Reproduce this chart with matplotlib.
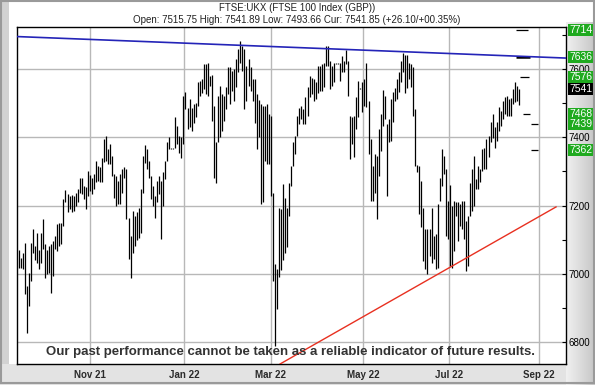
import matplotlib.pyplot as plt
import matplotlib.transforms as mtransforms
from matplotlib.patches import Rectangle
import numpy as np

title = "FTSE:UKX (FTSE 100 Index (GBP))"
subtitle = "Open: 7515.75 High: 7541.89 Low: 7493.66 Cur: 7541.85 (+26.10/+00.35%)"
disclaimer = "Our past performance cannot be taken as a reliable indicator of future results."

# daily high / low bars, Sep 2021 -> Aug 2022
highs = [
    # sep - oct 21
    7070, 7047, 7062, 7091, 6964, 7003, 7091, 7130, 7081, 7120,
    7071, 7119, 7160, 7086, 7071, 7081, 7086, 7096, 7111, 7145,
    7148, 7150, 7219, 7246, 7233, 7228, 7230, 7228, 7238, 7248,
    7280, 7280, 7258, 7253, 7302, 7289, 7280, 7292, 7331, 7317,
    7312, 7338, 7395,
    # nov - dec 21
    7404, 7365, 7380, 7346, 7292, 7287, 7272, 7292, 7307, 7312,
    7307, 7165, 7111, 7184, 7170, 7180, 7194, 7248, 7346, 7377,
    7365, 7331, 7287, 7258, 7228, 7272, 7287, 7272, 7297, 7331,
    7385, 7402, 7370, 7370, 7458, 7434, 7404, 7400, 7522, 7532,
    # jan - feb 22
    7487, 7512, 7487, 7497, 7500, 7561, 7566, 7570, 7614, 7614,
    7619, 7580, 7582, 7492, 7385, 7522, 7551, 7527, 7522, 7546,
    7605, 7605, 7595, 7600, 7629, 7659, 7683, 7668, 7659, 7610,
    7629, 7605, 7570, 7570, 7527, 7510, 7497, 7492, 7492, 7497,
    7468, 7463, 7238, 7028, 7013,
    # mar - apr 22
    7194, 7189, 7263, 7223, 7194, 7267, 7316, 7385, 7404, 7463,
    7487, 7492, 7483, 7517, 7546, 7580, 7575, 7570, 7561, 7610,
    7610, 7614, 7619, 7668, 7668, 7624, 7610, 7619, 7617, 7617,
    7619, 7639, 7624, 7657, 7624, 7463, 7458, 7463, 7517, 7566,
    7544, 7561,
    # may - jun 22
    7571, 7619, 7507, 7395, 7317, 7351, 7346, 7424, 7468, 7539,
    7522, 7439, 7453, 7512, 7532, 7543, 7570, 7592, 7622, 7646,
    7641, 7641, 7619, 7614, 7605, 7483, 7318, 7316, 7272, 7194,
    7131, 7131, 7131, 7194, 7111, 7116, 7204,
    # jul - aug 22
    7282, 7365, 7346, 7307, 7214, 7260, 7199, 7214, 7209, 7209,
    7204, 7214, 7214, 7155, 7170, 7267, 7307, 7346, 7277, 7317,
    7307, 7365, 7370, 7395, 7404, 7444, 7468, 7429, 7444, 7488,
    7478, 7507, 7517, 7522, 7512, 7514, 7541, 7561, 7551, 7541.89,
]
lows = [
    7018, 7018, 7013, 6940, 6827, 6905, 6979, 7062, 7042, 7032,
    7013, 7032, 7072, 6988, 7000, 7003, 6944, 6993, 7072, 7067,
    7081, 7086, 7140, 7209, 7180, 7189, 7180, 7184, 7199, 7209,
    7238, 7233, 7219, 7189, 7228, 7243, 7233, 7248, 7268, 7273,
    7268, 7270, 7328,
    7331, 7321, 7321, 7287, 7223, 7199, 7204, 7204, 7238, 7282,
    7160, 7043, 6989, 7062, 7081, 7100, 7106, 7121, 7238, 7326,
    7307, 7282, 7219, 7199, 7165, 7209, 7233, 7101, 7199, 7277,
    7331, 7365, 7367, 7367, 7370, 7380, 7355, 7340, 7380, 7483,
    7424, 7429, 7419, 7443, 7458, 7492, 7522, 7531, 7541, 7527,
    7522, 7551, 7448, 7282, 7267, 7385, 7400, 7419, 7448, 7483,
    7527, 7497, 7536, 7507, 7546, 7590, 7619, 7595, 7483, 7507,
    7551, 7536, 7507, 7443, 7365, 7400, 7204, 7209, 7331, 7321,
    7321, 7229, 6979, 6788, 6896,
    6990, 7010, 7040, 7060, 7080, 7170, 7258, 7316, 7351, 7404,
    7439, 7453, 7439, 7439, 7463, 7517, 7527, 7507, 7512, 7531,
    7536, 7536, 7546, 7610, 7610, 7541, 7551, 7561, 7614, 7614,
    7566, 7590, 7590, 7614, 7522, 7336, 7380, 7341, 7424, 7458,
    7541, 7473,
    7492, 7488, 7351, 7214, 7214, 7238, 7160, 7287, 7360, 7434,
    7453, 7228, 7385, 7390, 7444, 7507, 7512, 7534, 7561, 7590,
    7529, 7544, 7570, 7546, 7463, 7317, 7297, 7175, 7136, 7038,
    7013, 6999, 7053, 7033, 7043, 7013, 7018,
    7214, 7258, 7292, 7111, 7101, 7023, 7018, 7067, 7170, 7096,
    7140, 7131, 7101, 7008, 7023, 7170, 7184, 7199, 7248, 7248,
    7268, 7302, 7307, 7307, 7341, 7385, 7399, 7370, 7390, 7419,
    7434, 7453, 7468, 7463, 7463, 7463, 7497, 7502, 7507, 7493.66,
]

month_labels = ["Nov 21", "Jan 22", "Mar 22", "May 22", "Jul 22", "Sep 22"]
month_bar = [35.1, 81.3, 124.0, 169.3, 211.5, 255.8]

# trend lines (bar index, price)
blue_x = [-0.84, 269.1]
blue_y = [7695, 7632]
red_x = [128.5, 264.2]
red_y = [6736, 7196]

levels = [7714, 7636, 7576, 7468, 7439, 7362]
level_text = ["7714.50", "7636.40", "7576.00", "7468.00", "7439.00", "7362.00"]
current = 7541.85
current_text = "7541.85"

W, H = 595, 385
def fx(px):
    return px / W
def fy(py):
    return 1 - py / H

plt.rcParams['font.family'] = ['Liberation Sans', 'DejaVu Sans']

fig = plt.figure(figsize=(W / 100, H / 100), dpi=100, facecolor='white')

# frame / panels (behind the axes)
fig.patches.append(Rectangle((0, 0), fx(9), 1, transform=fig.transFigure,
                             fc='#d2d2d2', ec='none', zorder=-2))
fig.patches.append(Rectangle((0, 0), 1, fy(364), transform=fig.transFigure,
                             fc='#e3e3e3', ec='none', zorder=-2))
pan = fig.add_axes([fx(566), 0, 1 - fx(566), fy(22)])
pan.set_zorder(-1)
grad = np.linspace(0, 1, 60).reshape(1, -1)
pan.imshow(grad, aspect='auto', cmap=plt.matplotlib.colors.LinearSegmentedColormap.from_list(
    'g', ['#f0f0f0', '#dcdcdc', '#c6c6c6']), extent=[0, 1, 0, 1])
pan.set_axis_off()
fig.patches.append(Rectangle((0.002, 0.004), 0.996, 0.993, transform=fig.transFigure,
                             fc='none', ec='#9a9a9a', lw=1.5, zorder=10))

ax = fig.add_axes([fx(17), fy(364), fx(566) - fx(17), fy(27) - fy(364)])
ax.set_facecolor('white')

idx = np.arange(len(highs))
ax.vlines(idx, lows, highs, color='black', lw=0.9, zorder=3)

ax.plot(blue_x, blue_y, color='#2424b8', lw=1.2, zorder=4)
ax.plot(red_x, red_y, color='#e83020', lw=1.0, zorder=4)

# level markers to the right of the last bar
ax.hlines(levels[0], 244.3, 250.2, color='black', lw=0.9)
ax.hlines(levels[1], 244.5, 251.4, color='black', lw=1.8)
ax.hlines(levels[2], 246.5, 250.9, color='black', lw=0.9)
ax.hlines(levels[3], 248.0, 251.4, color='black', lw=0.9)
ax.hlines(levels[4], 251.9, 255.3, color='black', lw=0.9)
ax.hlines(levels[5], 251.9, 255.3, color='black', lw=0.9)

ax.set_yticks(range(6800, 7601, 200))
ax.set_yticks(range(6900, 7701, 100), minor=True)
ax.set_xticks(month_bar, month_labels)
ax.set_xlim(-0.84, 269.1)
ax.set_ylim(6736, 7723)

ax.yaxis.tick_right()
ax.tick_params(axis='y', which='both', direction='in', length=3, width=0.8,
               labelsize=7, pad=2, colors='black')
ax.tick_params(axis='x', length=0, labelsize=7, pad=4, labelcolor='#2a2a2a')
for lab in ax.get_xticklabels():
    lab.set_fontweight('bold')
ax.grid(True, which='major', color='#b8b8b8', lw=1.0)
ax.set_axisbelow(True)
for s in ax.spines.values():
    s.set_color('black')
    s.set_linewidth(1.0)

tr = mtransforms.blended_transform_factory(ax.transAxes, ax.transData)
xoff = 1 + 3.0 / 549
for v, t in zip(levels, level_text):
    ax.text(xoff, v, t, transform=tr, ha='left', va='center', fontsize=7.5, color='white',
            bbox=dict(boxstyle='square,pad=0.1', fc='#1faa1f', ec='none'),
            clip_on=False, zorder=6)
ax.text(xoff, current, current_text, transform=tr, ha='left', va='center', fontsize=7.5,
        color='white', bbox=dict(boxstyle='square,pad=0.1', fc='black', ec='none'),
        clip_on=False, zorder=6)

fig.text(fx(297), fy(8), title, ha='center', va='center', fontsize=7, color='#222222')
fig.text(fx(297), fy(20), subtitle, ha='center', va='center', fontsize=7, color='#222222')
fig.text(fx(290), fy(352), disclaimer, ha='center', va='center', fontsize=9.5,
         fontweight='bold', color='#333333',
         family=['Liberation Sans Narrow', 'Liberation Sans', 'DejaVu Sans'], zorder=8)

fig.savefig('out.png', dpi=100)
